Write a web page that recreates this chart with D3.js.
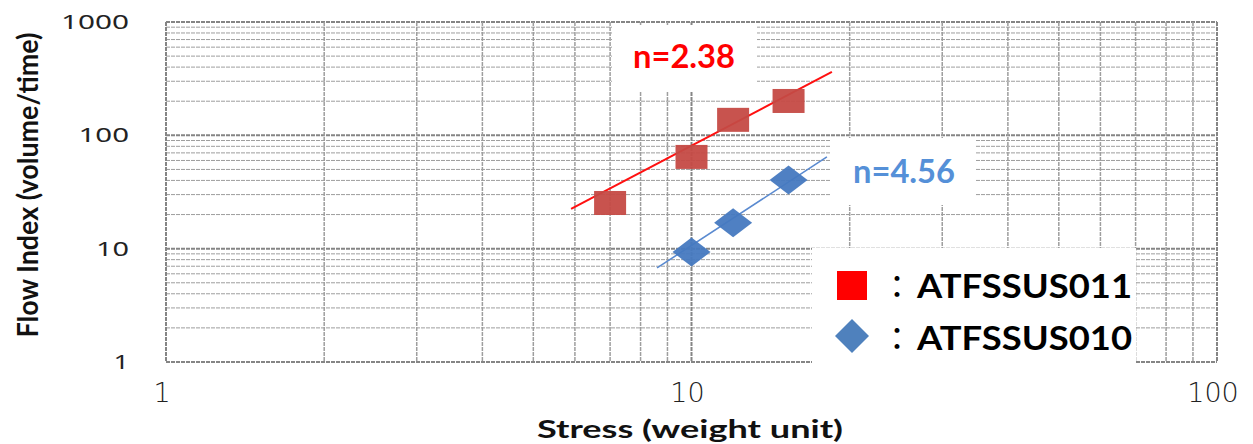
<!DOCTYPE html>
<html>
<head>
<meta charset="utf-8">
<script src="https://cdn.jsdelivr.net/npm/d3@7"></script>
<style>
  html, body { margin: 0; padding: 0; background: #fff; }
  svg { display: block; }
</style>
</head>
<body>
<svg id="chart"></svg>
<script>
(function () {
  'use strict';

  // data
  const xTicks = [1, 10, 100];
  const yTicks = [1, 10, 100, 1000];

  const atf011Stress = [7, 10, 12, 15.3];
  const atf011Flow = [25.3, 64.5, 137, 201];
  const atf010Stress = [10, 12, 15.3];
  const atf010Flow = [9.35, 16.9, 40.4];

  // fitted lines, end points
  const fit011Stress = [5.9, 18.5];
  const fit011Flow = [22.4, 363];
  const fit010Stress = [8.6, 18.1];
  const fit010Flow = [6.76, 64.5];

  const seriesNames = ['ATFSSUS011', 'ATFSSUS010'];
  const slopeLabels = ['n=2.38', 'n=4.56'];

  const width = 1253;
  const height = 444;
  const plot = { left: 166, right: 1217, top: 22, bottom: 362 };

  const svg = d3.select('#chart')
    .attr('width', width)
    .attr('height', height);

  const x = d3.scaleLog().domain([1, 100]).range([plot.left, plot.right]);
  const y = d3.scaleLog().domain([1, 1000]).range([plot.bottom, plot.top]);

  // every 1..9 per decade
  function logLines(min, max) {
    const out = [];
    for (let d = min; d < max; d *= 10) {
      for (let k = 1; k < 10; k++) out.push(d * k);
    }
    out.push(max);
    return out;
  }
  const isMajor = v => Math.abs(Math.log10(v) - Math.round(Math.log10(v))) < 1e-9;

  const grid = svg.append('g').attr('class', 'grid');

  grid.selectAll('.hline')
    .data(logLines(1, 1000))
    .enter()
    .append('line')
      .attr('class', 'hline')
      .attr('x1', plot.left)
      .attr('x2', plot.right)
      .attr('y1', d => y(d))
      .attr('y2', d => y(d))
      .attr('stroke', d => isMajor(d) ? '#858585' : '#9e9e9e')
      .attr('stroke-width', d => isMajor(d) ? 2 : 1)
      .attr('stroke-dasharray', '4,1');

  grid.selectAll('.vline')
    .data(logLines(1, 100))
    .enter()
    .append('line')
      .attr('class', 'vline')
      .attr('y1', plot.top)
      .attr('y2', plot.bottom)
      .attr('x1', d => x(d))
      .attr('x2', d => x(d))
      .attr('stroke', d => isMajor(d) ? '#858585' : '#9e9e9e')
      .attr('stroke-width', d => isMajor(d) ? 2 : 1.5)
      .attr('stroke-dasharray', '4,1');

  // white text boxes over the grid (like the original)
  const boxes = [
    { x: 612, y: 25, w: 145, h: 66 },
    { x: 830, y: 138, w: 145, h: 67 },
    { x: 812, y: 248, w: 324, h: 125 }
  ];
  svg.selectAll('.box')
    .data(boxes)
    .enter()
    .append('rect')
      .attr('class', 'box')
      .attr('x', d => d.x)
      .attr('y', d => d.y)
      .attr('width', d => d.w)
      .attr('height', d => d.h)
      .attr('fill', '#fff');

  // tick labels
  svg.selectAll('.ytick')
    .data(yTicks)
    .enter()
    .append('text')
      .attr('class', 'ytick')
      .attr('x', 129)
      .attr('y', d => y(d) + 7)
      .attr('text-anchor', 'end')
      .attr('font-family', '"Noto Sans", sans-serif')
      .attr('font-size', 20)
      .attr('fill', '#222')
      .attr('textLength', d => String(d).length * 17.5 - 2)
      .attr('lengthAdjust', 'spacingAndGlyphs')
      .text(d => d);

  svg.selectAll('.xtick')
    .data(xTicks)
    .enter()
    .append('text')
      .attr('class', 'xtick')
      .attr('x', d => x(d) - 4)
      .attr('y', 402)
      .attr('text-anchor', 'middle')
      .attr('font-family', '"DejaVu Sans", sans-serif')
      .attr('font-weight', 200)
      .attr('font-size', 27)
      .attr('fill', '#222')
      .text(d => d);

  // axis titles
  svg.append('text')
    .attr('x', 690)
    .attr('y', 438)
    .attr('text-anchor', 'middle')
    .attr('font-family', 'Lato, sans-serif')
    .attr('font-weight', 700)
    .attr('font-size', 25)
    .attr('fill', '#111')
    .attr('textLength', 306)
    .attr('lengthAdjust', 'spacingAndGlyphs')
    .text('Stress (weight unit)');

  svg.append('text')
    .attr('transform', 'translate(38,185) rotate(-90)')
    .attr('text-anchor', 'middle')
    .attr('font-family', 'Lato, sans-serif')
    .attr('font-weight', 700)
    .attr('font-size', 29)
    .attr('fill', '#111')
    .attr('textLength', 305)
    .attr('lengthAdjust', 'spacingAndGlyphs')
    .text('Flow Index (volume/time)');

  // fitted lines
  const line = d3.line().x(d => x(d[0])).y(d => y(d[1]));
  svg.append('path')
    .datum(d3.zip(fit011Stress, fit011Flow))
    .attr('d', line)
    .attr('fill', 'none')
    .attr('stroke', '#ff1010')
    .attr('stroke-width', 2);
  svg.append('path')
    .datum(d3.zip(fit010Stress, fit010Flow))
    .attr('d', line)
    .attr('fill', 'none')
    .attr('stroke', '#5a8ad0')
    .attr('stroke-width', 1.6);

  // markers
  const sqW = 32, sqH = 24;
  svg.selectAll('.sq')
    .data(d3.zip(atf011Stress, atf011Flow))
    .enter()
    .append('rect')
      .attr('class', 'sq')
      .attr('x', d => x(d[0]) - sqW / 2)
      .attr('y', d => y(d[1]) - sqH / 2)
      .attr('width', sqW)
      .attr('height', sqH)
      .attr('fill', '#c54a44')
      .attr('fill-opacity', 0.95);

  const dmW = 19, dmH = 14.5;
  svg.selectAll('.dm')
    .data(d3.zip(atf010Stress, atf010Flow))
    .enter()
    .append('path')
      .attr('class', 'dm')
      .attr('transform', d => `translate(${x(d[0])},${y(d[1])})`)
      .attr('d', `M0,${-dmH}L${dmW},0L0,${dmH}L${-dmW},0Z`)
      .attr('fill', '#4679c0')
      .attr('fill-opacity', 0.95);

  // slope annotations
  svg.append('text')
    .attr('x', 633)
    .attr('y', 68)
    .attr('font-family', 'Lato, sans-serif')
    .attr('font-weight', 700)
    .attr('font-size', 32)
    .attr('fill', '#ff0000')
    .attr('textLength', 102)
    .attr('lengthAdjust', 'spacingAndGlyphs')
    .text(slopeLabels[0]);

  svg.append('text')
    .attr('x', 853)
    .attr('y', 183)
    .attr('font-family', 'Lato, sans-serif')
    .attr('font-weight', 700)
    .attr('font-size', 32)
    .attr('fill', '#5590d8')
    .attr('textLength', 102)
    .attr('lengthAdjust', 'spacingAndGlyphs')
    .text(slopeLabels[1]);

  // legend
  svg.append('rect')
    .attr('x', 837)
    .attr('y', 271)
    .attr('width', 30)
    .attr('height', 29)
    .attr('fill', '#ff0000');
  svg.append('path')
    .attr('transform', 'translate(852,336)')
    .attr('d', 'M0,-17L17,0L0,17L-17,0Z')
    .attr('fill', '#4f81bd');

  const legendRows = [298, 350];
  seriesNames.forEach((name, i) => {
    svg.append('text')
      .attr('x', 897)
      .attr('y', legendRows[i])
      .attr('text-anchor', 'middle')
      .attr('font-family', '"Noto Sans CJK JP", sans-serif')
      .attr('font-size', 32)
      .attr('fill', '#000')
      .text('：');
    svg.append('text')
      .attr('x', 917)
      .attr('y', legendRows[i])
      .attr('font-family', 'Lato, sans-serif')
      .attr('font-weight', 700)
      .attr('font-size', 32)
      .attr('fill', '#000')
      .attr('textLength', 215)
      .attr('lengthAdjust', 'spacingAndGlyphs')
      .text(name);
  });
}());
</script>
</body>
</html>
